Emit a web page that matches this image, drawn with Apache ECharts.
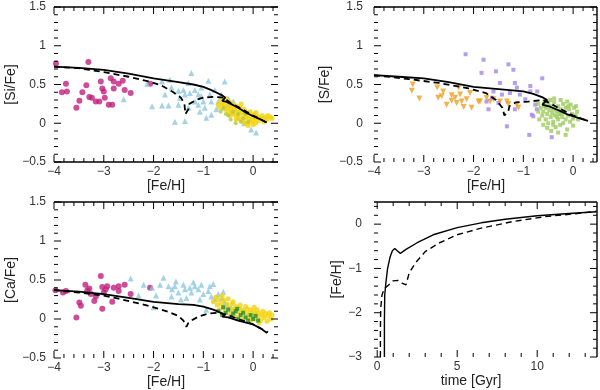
<!DOCTYPE html>
<html><head><meta charset="utf-8">
<script src="https://cdn.jsdelivr.net/npm/echarts@6/dist/echarts.min.js"></script>
<style>html,body{margin:0;padding:0;background:#fff;overflow:hidden}#c{width:600px;height:390px}</style>
</head><body><div id="c"></div>
<script>
// ---------- tick labels ----------
const feTicks = [-4, -3, -2, -1, 0];
const ratioTicks = [-0.5, 0, 0.5, 1, 1.5];
const timeTicks = [0, 5, 10];
const fehTimeTicks = [-3, -2, -1, 0];

// ---------- [Si/Fe] panel ----------
const siHalo = [[-3.96,0.77],[-3.31,0.79],[-3.76,0.51],[-3.84,0.40],[-3.74,0.41],[-3.35,0.49],[-3.43,0.40],[-3.49,0.29],[-3.55,0.20],[-3.29,0.34],[-3.24,0.33],[-3.16,0.28],[-3.06,0.54],[-3.03,0.45],[-3.0,0.41],[-2.98,0.33],[-3.09,0.28],[-2.86,0.58],[-2.8,0.54],[-2.7,0.51],[-2.62,0.55],[-2.8,0.45],[-2.9,0.24],[-2.83,0.24],[-2.58,0.43],[-2.46,0.39],[-2.07,0.51]];
const siThick = [[-2.6,0.31],[-2.13,0.51],[-2.03,0.22],[-1.83,0.54],[-1.83,0.23],[-1.77,0.37],[-1.7,0.23],[-1.67,0.56],[-1.64,0.46],[-1.57,0.02],[-1.5,0.42],[-1.5,0.24],[-1.47,0.33],[-1.4,0.43],[-1.37,0.37],[-1.37,0.03],[-1.3,0.52],[-1.3,0.2],[-1.27,0.39],[-1.24,0.65],[-1.17,0.43],[-1.17,0.28],[-1.1,0.37],[-1.1,0.24],[-1.07,0.15],[-1.04,0.46],[-1.04,0.35],[-1.0,0.28],[-0.97,0.2],[-0.94,0.07],[-0.9,0.55],[-0.87,0.37],[-0.84,0.28],[-0.84,0.11],[-0.77,0.43],[-0.74,0.18],[-0.7,0.28],[-0.64,0.37],[-0.57,0.54],[-0.51,0.24],[-0.44,0.15],[-0.31,0.07],[-0.18,0.0],[-0.04,-0.08],[0.06,-0.12],[-0.6,0.2],[-0.5,0.32],[-0.4,0.28]];
const siThin = [[-0.65,0.30],[-0.62,0.25],[-0.6,0.28],[-0.58,0.22],[-0.55,0.32],[-0.52,0.26],[-0.5,0.2],[-0.5,0.15],[-0.48,0.28],[-0.45,0.23],[-0.44,0.18],[-0.42,0.12],[-0.4,0.25],[-0.38,0.2],[-0.36,0.15],[-0.35,0.1],[-0.33,0.22],[-0.3,0.17],[-0.3,0.08],[-0.28,0.13],[-0.26,0.2],[-0.25,0.05],[-0.22,0.15],[-0.2,0.1],[-0.2,0.02],[-0.18,0.18],[-0.15,0.07],[-0.14,0.13],[-0.12,0.0],[-0.1,0.1],[-0.08,0.05],[-0.06,0.15],[-0.05,0.02],[-0.02,0.08],[0.0,0.04],[0.02,0.12],[0.04,0.06],[0.05,0.0],[0.08,0.09],[0.1,0.03],[0.12,0.07],[0.15,0.05],[0.18,0.1],[0.2,0.06],[0.22,0.02],[0.25,0.08],[0.28,0.05],[0.3,0.1],[0.35,0.08],[0.38,0.06],[-0.7,0.24],[-0.68,0.2],[-0.56,0.18],[-0.46,0.1],[-0.34,0.05],[-0.24,0.25],[-0.16,0.0],[-0.1,-0.03],[0.0,-0.02],[0.06,0.14]];
const siThinB = [[-0.6,0.2],[-0.5,0.1],[-0.45,0.05],[-0.4,0.15],[-0.35,0.0],[-0.3,0.12],[-0.25,0.02],[-0.2,0.06],[-0.55,0.12],[-0.65,0.15],[-0.1,0.02],[-0.15,0.12]];
const siModelA = [[-4,0.73],[-3.5,0.715],[-3,0.69],[-2.5,0.64],[-2,0.58],[-1.5,0.53],[-1.2,0.5],[-1,0.47],[-0.85,0.43],[-0.75,0.4],[-0.62,0.36],[-0.56,0.33],[-0.62,0.29],[-0.55,0.28],[-0.45,0.25],[-0.3,0.2],[-0.15,0.14],[0,0.09],[0.15,0.05],[0.27,0.01]];
const siModelB = [[-4,0.73],[-3.5,0.71],[-3,0.66],[-2.5,0.6],[-2.1,0.54],[-1.85,0.49],[-1.6,0.4],[-1.45,0.33],[-1.38,0.25],[-1.36,0.12],[-1.3,0.18],[-1.28,0.25],[-1.15,0.3],[-1.0,0.33],[-0.8,0.34],[-0.6,0.33],[-0.45,0.26],[-0.3,0.21],[0,0.1],[0.3,0.0]];

// ---------- [S/Fe] panel ----------
const sHalo = [[-3.22,0.5],[-3.24,0.42],[-3.09,0.32],[-2.73,0.46],[-2.71,0.33],[-2.61,0.41],[-2.54,0.24],[-2.44,0.29],[-2.37,0.33],[-2.3,0.46],[-2.27,0.37],[-2.2,0.21],[-2.24,0.28],[-2.14,0.31],[-2.07,0.39],[-2.04,0.2],[-1.9,0.28],[-1.87,0.28],[-1.74,0.33],[-1.67,0.28],[-1.6,0.31],[-1.47,0.28],[-1.33,0.28],[-1.3,0.25],[-1.13,0.24],[-1.1,0.2],[-2.44,0.36],[-2.34,0.26],[-2.64,0.35]];
const sThick = [[-2.16,0.89],[-1.8,0.82],[-1.84,0.65],[-1.55,0.67],[-1.3,0.76],[-1.2,0.69],[-1.47,0.52],[-1.17,0.52],[-1.13,0.46],[-1.6,0.41],[-1.63,0.33],[-1.43,0.37],[-1.27,0.39],[-1.07,0.37],[-0.96,0.31],[-0.86,0.41],[-0.76,0.24],[-0.73,0.18],[-0.83,0.11],[-0.8,0.09],[-0.62,0.58],[-0.72,0.41],[-0.86,0.48],[-1.33,-0.04],[-0.88,-0.15],[-0.43,-0.18],[-1.7,0.18],[-1.74,0.28],[-1.5,0.26],[-1.17,0.18]];
const sThin = [[-0.7,0.25],[-0.65,0.2],[-0.62,0.1],[-0.6,0.15],[-0.58,0.28],[-0.55,0.05],[-0.55,0.2],[-0.52,0.12],[-0.5,0.25],[-0.5,0.0],[-0.48,0.17],[-0.45,0.08],[-0.45,0.22],[-0.42,0.13],[-0.4,0.02],[-0.4,0.18],[-0.38,0.27],[-0.36,0.1],[-0.35,-0.05],[-0.33,0.15],[-0.3,0.05],[-0.3,0.22],[-0.28,0.12],[-0.26,-0.02],[-0.25,0.18],[-0.22,0.08],[-0.2,0.25],[-0.2,0.0],[-0.18,0.14],[-0.15,0.05],[-0.15,0.2],[-0.12,-0.08],[-0.1,0.1],[-0.08,0.18],[-0.06,0.02],[-0.05,0.24],[-0.02,0.12],[0.0,0.06],[0.02,0.2],[0.05,0.1],[0.08,0.15],[0.1,0.05],[-0.44,-0.1],[-0.3,-0.12],[-0.6,-0.02],[-0.25,0.3],[-0.12,0.28],[0.0,-0.03],[-0.68,0.05],[-0.52,-0.06],[-0.38,0.32],[-0.15,-0.15],[-0.4,-0.02],[-0.32,0.08],[-0.24,0.12],[-0.46,0.3],[-0.58,0.22],[-0.1,0.22],[0.06,0.22],[-0.7,0.15]];
const sModelA = [[-4,0.62],[-3.5,0.6],[-3,0.58],[-2.5,0.53],[-2,0.47],[-1.5,0.44],[-1,0.41],[-0.8,0.38],[-0.6,0.33],[-0.52,0.3],[-0.62,0.24],[-0.45,0.21],[-0.3,0.17],[-0.1,0.11],[0.1,0.07],[0.3,0.03]];
const sModelB = [[-4,0.62],[-3.3,0.57],[-2.7,0.52],[-2.1,0.45],[-1.75,0.39],[-1.55,0.3],[-1.42,0.2],[-1.38,0.1],[-1.3,0.16],[-1.28,0.22],[-1.15,0.27],[-0.9,0.28],[-0.6,0.3],[-0.5,0.27],[-0.3,0.2],[0,0.1],[0.3,0.03]];

// ---------- [Ca/Fe] panel ----------
const caHalo = [[-3.97,0.37],[-3.82,0.34],[-3.76,0.36],[-3.55,0.02],[-3.49,0.21],[-3.46,0.17],[-3.37,0.44],[-3.33,0.37],[-3.29,0.39],[-3.26,0.32],[-3.19,0.23],[-3.16,0.29],[-3.06,0.55],[-3.03,0.41],[-3.0,0.34],[-2.96,0.38],[-2.93,0.42],[-3.03,0.13],[-2.83,0.22],[-2.8,0.4],[-2.7,0.36],[-2.7,0.42],[-2.58,0.44],[-2.46,0.32],[-2.07,0.4]];
const caThick = [[-2.46,0.52],[-2.2,0.44],[-2.03,0.4],[-2.0,0.15],[-1.87,0.44],[-1.8,0.53],[-1.7,0.42],[-1.64,0.29],[-1.63,0.38],[-1.57,0.42],[-1.5,0.34],[-1.45,0.25],[-1.4,0.44],[-1.37,0.38],[-1.34,0.27],[-1.27,0.4],[-1.24,0.34],[-1.17,0.42],[-1.1,0.38],[-1.07,0.25],[-1.04,0.44],[-1.0,0.32],[-0.94,0.12],[-0.9,0.36],[-0.87,0.42],[-0.84,0.29],[-0.8,0.45],[-0.77,0.25],[-0.7,0.32],[-0.63,0.27],[-0.57,0.21],[-0.51,0.17],[-0.44,0.15],[-0.6,0.35],[-2.3,0.3],[-1.95,0.3],[-1.55,0.48],[-1.2,0.47]];
const caThin = [[-0.8,0.22],[-0.75,0.28],[-0.72,0.18],[-0.7,0.25],[-0.68,0.12],[-0.65,0.2],[-0.62,0.3],[-0.6,0.15],[-0.58,0.24],[-0.55,0.1],[-0.52,0.19],[-0.5,0.26],[-0.48,0.14],[-0.45,0.08],[-0.42,0.2],[-0.4,0.12],[-0.38,0.05],[-0.35,0.16],[-0.32,0.1],[-0.3,0.02],[-0.28,0.14],[-0.25,0.07],[-0.22,0.12],[-0.2,0.0],[-0.18,0.1],[-0.15,0.05],[-0.12,0.13],[-0.1,0.02],[-0.08,0.08],[-0.05,0.12],[-0.02,0.04],[0.0,0.1],[0.03,0.0],[0.05,0.07],[0.08,0.12],[0.1,0.03],[0.12,0.08],[0.15,-0.02],[0.18,0.05],[0.2,0.1],[0.22,0.02],[0.25,0.07],[0.28,-0.03],[0.3,0.04],[0.33,0.08],[0.36,0.0],[0.38,0.05],[-0.05,-0.02],[0.12,-0.05],[-0.26,0.18],[-0.62,0.06],[0.02,0.15],[-0.4,0.22],[-0.15,0.16]];
const caThinB = [[-0.7,0.1],[-0.62,0.05],[-0.55,0.08],[-0.5,0.12],[-0.45,0.03],[-0.4,0.07],[-0.35,0.1],[-0.3,0.0],[-0.25,0.05],[-0.2,0.08],[-0.15,0.02],[-0.1,-0.02],[-0.05,0.05],[0.0,0.0],[0.05,0.04],[0.1,-0.02],[-0.6,0.15],[-0.32,0.13]];
const caModelA = [[-4,0.37],[-3.5,0.35],[-3,0.32],[-2.5,0.27],[-2,0.22],[-1.5,0.19],[-1.2,0.18],[-1,0.16],[-0.8,0.12],[-0.65,0.08],[-0.57,0.05],[-0.62,0.03],[-0.5,0.02],[-0.3,-0.02],[0,-0.07],[0.15,-0.12],[0.28,-0.18]];
const caModelB = [[-4,0.37],[-3.5,0.34],[-3,0.3],[-2.7,0.26],[-2.3,0.2],[-2,0.15],[-1.7,0.09],[-1.5,0.04],[-1.4,-0.02],[-1.34,-0.1],[-1.3,-0.05],[-1.24,-0.02],[-1.1,0.03],[-0.9,0.07],[-0.7,0.08],[-0.5,0.05],[-0.3,0.0],[0,-0.07],[0.3,-0.17]];

// ---------- [Fe/H] vs time ----------
const ageModelA = [[0.45,-3],[0.45,-2.2],[0.47,-1.6],[0.55,-1.3],[0.65,-1.0],[0.8,-0.75],[0.95,-0.6],[1.1,-0.55],[1.25,-0.6],[1.45,-0.66],[1.8,-0.57],[2.5,-0.42],[3.5,-0.24],[5,-0.08],[6.5,0.03],[8,0.11],[10,0.19],[12,0.24],[13.7,0.28]];
const ageModelB = [[0.2,-3],[0.2,-2.4],[0.22,-1.9],[0.3,-1.6],[0.45,-1.45],[0.7,-1.38],[1.0,-1.28],[1.3,-1.27],[1.55,-1.33],[1.8,-1.37],[2.0,-1.1],[2.4,-0.87],[3.0,-0.62],[3.9,-0.42],[5,-0.24],[6.5,-0.09],[8.5,0.06],[10.5,0.17],[12.5,0.24],[13.7,0.29]];

// ---------- helpers ----------
const fmt = v => (v < 0 ? '\u2212' : '') + Math.abs(v);
const FONT = 'Liberation Sans, Arial, sans-serif';
const xAxes = [], yAxes = [], grids = [], series = [];

function steps(a, b, s, skip) {
  const out = [];
  const n = Math.floor((b - a) / s + 1e-6);
  for (let i = 0; i <= n; i++) {
    const v = +(a + i * s).toFixed(4);
    if (!skip.some(m => Math.abs(m - v) < 1e-6)) out.push(v);
  }
  return out;
}

// panel frame: edges + inside ticks; item = [x, y, side, len] in data units
function frameSeries(p, c) {
  const [x0, x1] = c.xr, [y0, y1] = c.yr;
  const items = [];
  const addX = (vals, len) => vals.forEach(v => { items.push([v, y0, 0, len]); items.push([v, y1, 1, len]); });
  const addY = (vals, len) => vals.forEach(v => { items.push([x0, v, 2, len]); items.push([x1, v, 3, len]); });
  addX(c.xt, 7); addX(steps(c.xm[0], x1, c.xs, c.xt), 4);
  addY(c.yt, 7); addY(steps(y0, y1, c.ys, c.yt), 4);
  const edgeStart = [[x0, y0], [x0, y1], [x0, y0], [x1, y0]];
  c.edges.forEach(s => items.push([edgeStart[s][0], edgeStart[s][1], s, -1]));
  return Object.assign({
    type: 'custom', coordinateSystem: 'cartesian2d', clip: false, silent: true, z: 6, data: items,
    encode: { x: 0, y: 1 },
    renderItem: (params, api) => {
      const s = api.value(2), len = api.value(3);
      const a = api.coord([api.value(0), api.value(1)]);
      // keep right-side strokes fully inside the drawable canvas
      const maxX = api.getWidth() - 3;
      const clampX = x => Math.min(x, maxX);
      if (len < 0) {
        const endPt = [[x1, y0], [x1, y1], [x0, y1], [x1, y1]][s];
        const b = api.coord(endPt);
        return { type: 'rect', shape: s >= 2
            ? { x: clampX(a[0]) - 0.7, y: Math.min(a[1], b[1]), width: 1.4, height: Math.abs(b[1] - a[1]) }
            : { x: a[0], y: a[1] - 0.7, width: clampX(b[0]) - a[0], height: 1.4 },
          style: { fill: '#000' } };
      }
      const d = [[0, -len], [0, len], [len, 0], [-len, 0]][s];
      const bx = s === 3 ? clampX(a[0]) : a[0];
      return { type: 'rect', shape: d[0] === 0
          ? { x: bx - 0.5, y: Math.min(a[1], a[1] + d[1]), width: 1, height: Math.abs(d[1]) }
          : { x: Math.min(bx, bx + d[0]), y: a[1] - 0.5, width: Math.abs(d[0]), height: 1 },
        style: { fill: '#000' } };
    }
  }, p);
}

function panel(box, c) {
  const gi = grids.length;
  grids.push({ left: box[0], top: box[1], width: box[2], height: box[3] });
  const p = { xAxisIndex: xAxes.length, yAxisIndex: yAxes.length };
  xAxes.push({ gridIndex: gi, type: 'value', min: c.xr[0], max: c.xr[1], position: 'bottom',
    name: c.xn, nameLocation: 'middle', nameGap: c.xg,
    nameTextStyle: { fontSize: 14, color: '#222', fontFamily: FONT, padding: c.xpad || 0 },
    splitLine: { show: false }, axisTick: { show: false }, axisLine: { show: false, onZero: false },
    axisLabel: { show: true, customValues: c.xt, formatter: fmt, margin: 4, fontSize: 12, color: '#333', fontFamily: FONT } });
  yAxes.push({ gridIndex: gi, type: 'value', min: c.yr[0], max: c.yr[1], position: 'left',
    name: c.yn, nameLocation: 'middle', nameGap: c.yg, nameRotate: 90,
    nameTextStyle: { fontSize: 14, color: '#222', fontFamily: FONT },
    splitLine: { show: false }, axisTick: { show: false }, axisLine: { show: false, onZero: false },
    axisLabel: { show: true, customValues: c.yt, formatter: fmt, margin: c.ym, fontSize: 12, color: '#333', fontFamily: FONT } });
  series.push(frameSeries(p, c));
  return p;
}

// edges: 0 bottom, 1 top, 2 left, 3 right
const pTL = panel([54, 7, 224, 155], { xr: [-4, 0.5], xm: [-4], xt: feTicks, xs: 0.2, yr: [-0.5, 1.5], yt: ratioTicks, ys: 0.1, xn: '[Fe/H]', xg: 16, yn: '[Si/Fe]', yg: 34, ym: 8, edges: [0, 1] });
const pTR = panel([374, 7, 224, 155], { xr: [-4, 0.5], xm: [-4], xt: feTicks, xs: 0.2, yr: [-0.5, 1.5], yt: ratioTicks, ys: 0.1, xn: '[Fe/H]', xg: 16, yn: '[S/Fe]', yg: 42, ym: 11, edges: [1, 3] });
const pBL = panel([54, 202, 224, 156], { xr: [-4, 0.5], xm: [-4], xt: feTicks, xs: 0.2, yr: [-0.5, 1.5], yt: ratioTicks, ys: 0.1, xn: '[Fe/H]', xg: 16, yn: '[Ca/Fe]', yg: 34, ym: 8, edges: [1] });
const pBR = panel([374, 202, 224, 155], { xr: [-0.2, 13.8], xm: [0], xt: timeTicks, xs: 1, yr: [-3, 0.5], yt: fehTimeTicks, ys: 0.2, xn: 'time [Gyr]', xg: 17, xpad: [0, 30, 0, 0], yn: '[Fe/H]', yg: 28, ym: 12, edges: [1, 3] });

const C = { halo: '#c2207e', thick: '#8cc8de', thin: '#f4d20c', olive: '#b4c83c', orange: '#efa021', purple: '#a286e6', lime: '#9ccb5c', dgreen: '#1f8c3a' };
function sc(p, data, color, symbol, size, rot) {
  return Object.assign({ type: 'scatter', data, symbol, symbolSize: size, symbolRotate: rot || 0, itemStyle: { color }, silent: true, z: 2 }, p);
}
function ln(p, data, dashed, w) {
  return Object.assign({ type: 'line', data, showSymbol: false, symbol: 'none', smooth: false, silent: true, z: 5,
    lineStyle: { color: '#000', width: w || 1.8, type: dashed ? [6, 4] : 'solid' } }, p);
}

series.push(
  sc(pTL, siHalo, C.halo, 'circle', 6), sc(pTL, siThick, C.thick, 'triangle', 6), sc(pTL, siThin, C.thin, 'circle', 5), sc(pTL, siThinB, C.olive, 'circle', 4),
  ln(pTL, siModelA, false), ln(pTL, siModelB, true),
  sc(pTR, sHalo, C.orange, 'triangle', 6, 180), sc(pTR, sThick, C.purple, 'rect', 4), sc(pTR, sThin, C.lime, 'rect', 4),
  ln(pTR, sModelA, false), ln(pTR, sModelB, true),
  sc(pBL, caHalo, C.halo, 'circle', 6), sc(pBL, caThick, C.thick, 'triangle', 6), sc(pBL, caThin, C.thin, 'circle', 5), sc(pBL, caThinB, C.dgreen, 'rect', 4),
  ln(pBL, caModelA, false), ln(pBL, caModelB, true),
  ln(pBR, ageModelA, false, 1.4), ln(pBR, ageModelB, true, 1.4)
);

const chart = echarts.init(document.getElementById('c'), null, { renderer: 'canvas' });
chart.setOption({ animation: false, backgroundColor: '#fff', grid: grids, xAxis: xAxes, yAxis: yAxes, series });
</script></body></html>
